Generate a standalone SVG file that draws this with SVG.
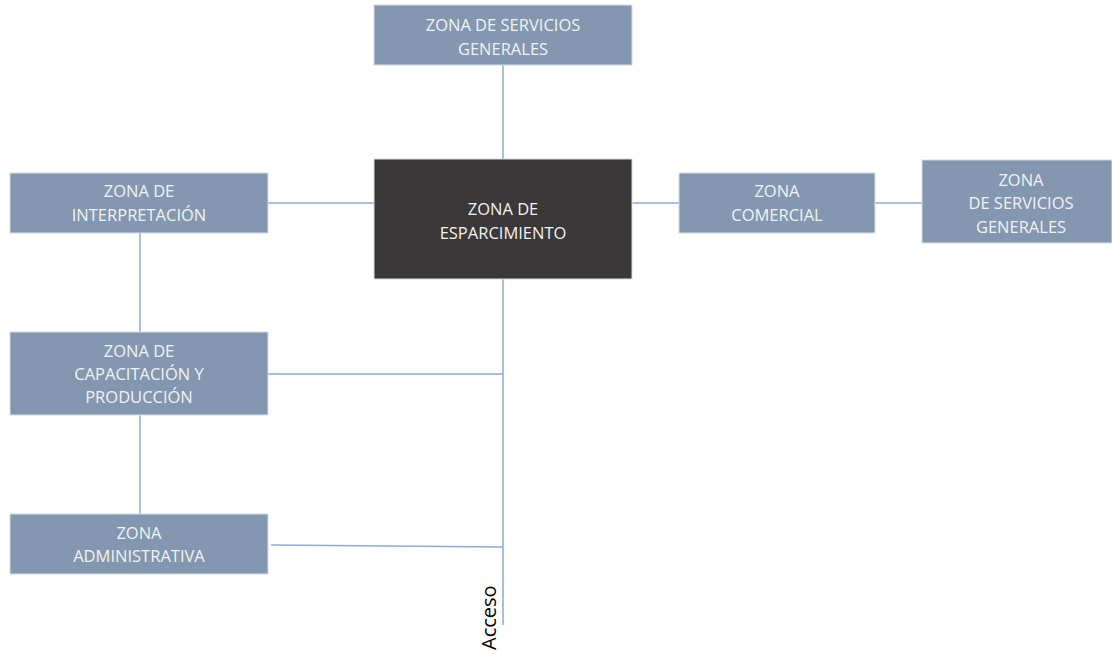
<svg xmlns="http://www.w3.org/2000/svg" width="1112" height="654" viewBox="0 0 1112 654">
<style>
.n{fill:#8497B0;stroke:#D6DCE5;stroke-width:1}
.d{fill:#3A3838;stroke:#D6DCE5;stroke-width:1}
.t{font-family:"Open Sans","Liberation Sans",sans-serif;font-size:16.5px;fill:#F2F2F2;text-anchor:middle}
.c{stroke:#8EA9DB;stroke-width:1.5;fill:none}
</style>
<rect width="1112" height="654" fill="#ffffff"/>
<g id="connectors">
<line class="c" x1="503" y1="65" x2="503" y2="159"/>
<line class="c" x1="503" y1="279" x2="503" y2="625"/>
<line class="c" x1="268" y1="203" x2="374" y2="203"/>
<line class="c" x1="632" y1="203" x2="679" y2="203"/>
<line class="c" x1="875" y1="203" x2="922" y2="203"/>
<line class="c" x1="140" y1="233" x2="140" y2="332"/>
<line class="c" x1="140" y1="415" x2="140" y2="514"/>
<line class="c" x1="268" y1="374" x2="503" y2="374"/>
<line class="c" x1="271" y1="545" x2="503" y2="547"/>
</g>
<g id="top">
<rect class="n" x="374" y="5" width="258" height="60"/>
<text class="t" x="503" y="31">ZONA DE SERVICIOS</text>
<text class="t" x="503" y="55">GENERALES</text>
</g>
<g id="center">
<rect class="d" x="374" y="159" width="258" height="120"/>
<text class="t" x="503" y="215">ZONA DE</text>
<text class="t" x="503" y="239">ESPARCIMIENTO</text>
</g>
<g id="interp">
<rect class="n" x="10" y="173" width="258" height="60"/>
<text class="t" x="139" y="197">ZONA DE</text>
<text class="t" x="139" y="221">INTERPRETACIÓN</text>
</g>
<g id="comercial">
<rect class="n" x="679" y="173" width="196" height="60"/>
<text class="t" x="777" y="197">ZONA</text>
<text class="t" x="777" y="221">COMERCIAL</text>
</g>
<g id="servicios-right">
<rect class="n" x="922" y="160" width="190" height="83"/>
<text class="t" x="1021" y="186">ZONA</text>
<text class="t" x="1021" y="209">DE SERVICIOS</text>
<text class="t" x="1021" y="233">GENERALES</text>
</g>
<g id="capacitacion">
<rect class="n" x="10" y="332" width="258" height="83"/>
<text class="t" x="139" y="357">ZONA DE</text>
<text class="t" x="139" y="380">CAPACITACIÓN Y</text>
<text class="t" x="139" y="403">PRODUCCIÓN</text>
</g>
<g id="administrativa">
<rect class="n" x="10" y="514" width="258" height="60"/>
<text class="t" x="139" y="539">ZONA</text>
<text class="t" x="139" y="562">ADMINISTRATIVA</text>
</g>
<text x="0" y="0" transform="translate(496,650) rotate(-90)" font-family="'Open Sans','Liberation Sans',sans-serif" font-size="20" fill="#000000">Acceso</text>
</svg>
